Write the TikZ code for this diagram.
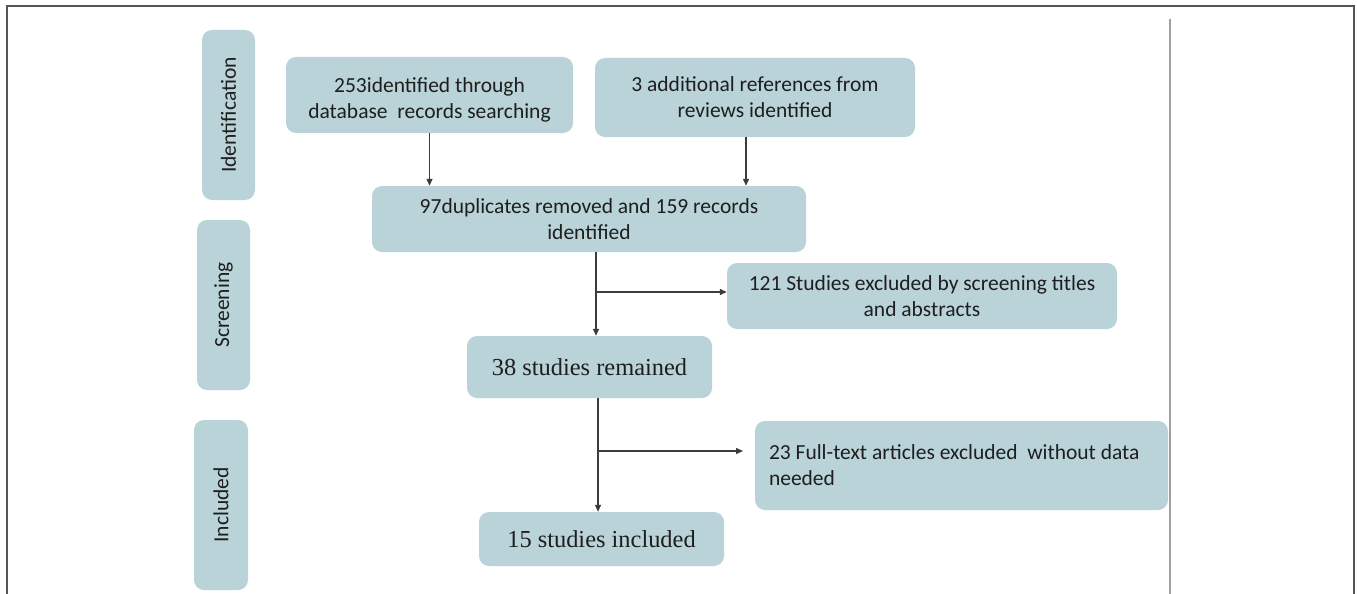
\documentclass[tikz,border=0pt]{standalone}
\usepackage{fontspec}
\setmainfont{Carlito}
\newfontfamily\tnr{Liberation Serif}
\usetikzlibrary{arrows.meta}
\definecolor{boxfill}{RGB}{185,211,216}
\definecolor{txt}{RGB}{30,30,30}
\definecolor{linec}{RGB}{60,60,60}
\tikzset{
  box/.style={fill=boxfill, draw=none, rounded corners=10pt, text=txt,
    font=\fontsize{21.5}{26}\selectfont, align=center, inner sep=0pt},
  phase/.style={box, rotate=90},
  arr/.style={draw=linec, line width=1.3pt, -{Triangle[length=7pt,width=6pt]}},
  ln/.style={draw=linec, line width=1.3pt}
}
\begin{document}
\begin{tikzpicture}[x=1pt,y=-1pt]
\useasboundingbox (0,0) rectangle (1357,594);
\fill[white] (0,0) rectangle (1357,594);
\draw[line width=1.5pt, draw={rgb,255:red,85;green,85;blue,85}] (7,600) -- (7,6) -- (1354,6) -- (1354,600);
\draw[line width=1.5pt, draw={rgb,255:red,160;green,160;blue,160}] (1170,19) -- (1170,600);

\node[phase, minimum width=170pt, minimum height=53pt] (p1) at (228.5,115) {Identification};
\node[phase, minimum width=170pt, minimum height=53pt] (p2) at (223.5,305) {Screening};
\node[phase, minimum width=170pt, minimum height=54pt] (p3) at (221,505) {Included};

\node[box, minimum width=287pt, minimum height=76pt] (b1) at (429.5,95) {\rule{0pt}{25pt}253identified through\\database\ \ records searching};
\node[box, minimum width=320pt, minimum height=79pt] (b2) at (755,97.5) {3 additional references from\\reviews identified};
\node[box, minimum width=434pt, minimum height=66pt] (b3) at (589,219) {97duplicates removed and 159 records\\identified};
\node[box, minimum width=390pt, minimum height=66pt] (b4) at (922,296) {121 Studies excluded by screening titles\\and abstracts};
\node[box, minimum width=245pt, minimum height=62pt, font=\tnr\fontsize{24.4}{28}\selectfont] (b5) at (589.5,367) {38 studies remained};
\node[box, minimum width=413pt, minimum height=89pt, text width=385pt, inner xsep=14pt, align=flush left] (b6) at (961.5,465.5) {23 Full-text articles excluded\ \ without data\\needed};
\node[box, minimum width=245pt, minimum height=54pt, font=\tnr\fontsize{24.4}{28}\selectfont] (b7) at (601.5,539) {15 studies included};

\coordinate (a2) at (746,137);
\coordinate (j1) at (596,292);
\coordinate (j2) at (598,451);
\coordinate (e2) at (743,451);

\draw[arr] (b1.south) -- (b1.south |- b3.north);
\draw[arr] (a2) -- (a2 |- b3.north);
\draw[ln] (j1 |- b3.south) -- (j1);
\draw[arr] (j1) -- (j1 |- b5.north);
\draw[arr] (j1) -- (j1 -| b4.west);
\draw[ln] (j2 |- b5.south) -- (j2);
\draw[arr] (j2) -- (j2 |- b7.north);
\draw[arr] (j2) -- (e2);
\end{tikzpicture}
\end{document}
